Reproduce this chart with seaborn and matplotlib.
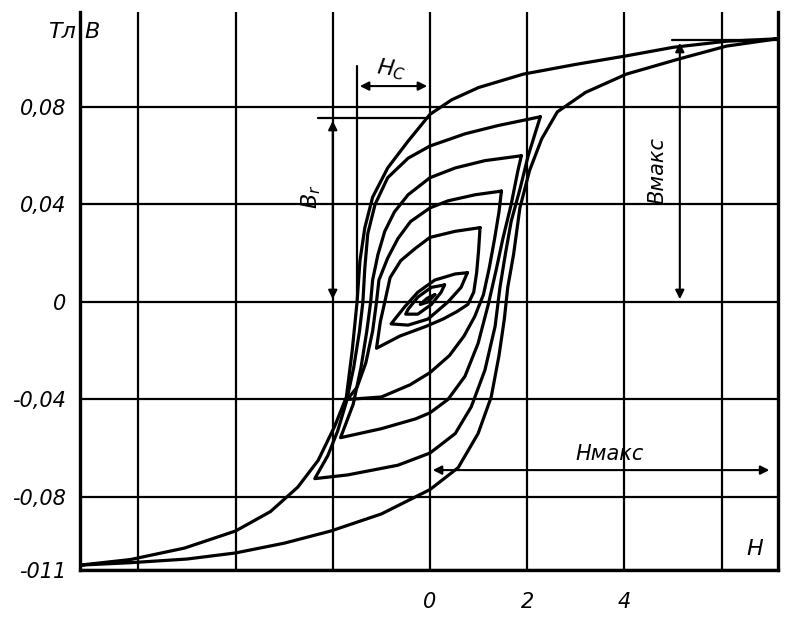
"""
Hysteresis loops B(H) - redrawn textbook figure
"""

import pandas as pd
import matplotlib
matplotlib.use('Agg')
import matplotlib.pyplot as plt
import seaborn as sns

# ============================================
# DATA
# each loop: upper tip -> descending branch -> lower tip -> ascending branch -> upper tip
# ============================================
outer_H = [7.15, 6.1, 5.0, 4.04, 3.0, 1.92, 1.0, 0.45, 0.0, -0.45, -0.87, -1.18, -1.34, -1.44,
           -1.5, -1.6, -1.72, -1.96, -2.3, -2.72, -3.28, -4.0, -5.05, -6.16, -7.2,
           -6.16, -5.0, -4.0, -3.0, -2.04, -1.0, 0.0, 0.58, 0.99, 1.26, 1.42, 1.53, 1.6,
           1.72, 1.85, 2.05, 2.3, 2.62, 3.2, 4.04, 5.1, 6.1, 7.15]
outer_B = [0.108, 0.107, 0.1045, 0.101, 0.0975, 0.0935, 0.088, 0.083, 0.077, 0.066, 0.055, 0.043,
           0.0305, 0.017, 0.0, -0.02, -0.039, -0.051, -0.065, -0.076, -0.086, -0.094, -0.101,
           -0.1057, -0.108,
           -0.107, -0.1055, -0.103, -0.099, -0.094, -0.087, -0.077, -0.068, -0.054, -0.039,
           -0.022, -0.007, 0.006, 0.0195, 0.0386, 0.054, 0.067, 0.078, 0.086, 0.0935, 0.0996,
           0.105, 0.108]

loop1_H = [2.27, 1.4, 0.72, 0.0, -0.45, -0.87, -1.13, -1.28, -1.34, -1.38, -1.45, -1.57, -1.72,
           -1.9, -2.1, -2.37,
           -1.7, -0.66, 0.0, 0.52, 0.85, 1.13, 1.34, 1.44, 1.55, 1.67, 1.86, 2.02, 2.27]
loop1_B = [0.076, 0.0724, 0.069, 0.064, 0.059, 0.051, 0.040, 0.028, 0.014, 0.0, -0.012, -0.027,
           -0.041, -0.053, -0.063, -0.0725,
           -0.071, -0.067, -0.062, -0.054, -0.043, -0.028, -0.010, 0.006, 0.0195, 0.033, 0.047,
           0.060, 0.076]

loop2_H = [1.88, 1.13, 0.52, 0.0, -0.45, -0.73, -0.93, -1.07, -1.18, -1.22, -1.3, -1.42, -1.58, -1.84,
           -1.0, -0.3, 0.0, 0.37, 0.72, 0.99, 1.2, 1.36, 1.5, 1.67, 1.81, 1.88]
loop2_B = [0.060, 0.058, 0.055, 0.051, 0.044, 0.037, 0.029, 0.0195, 0.009, 0.0, -0.012, -0.027,
           -0.042, -0.0557,
           -0.052, -0.048, -0.0455, -0.040, -0.0305, -0.017, -0.001, 0.013, 0.026, 0.040, 0.054, 0.060]

loop3_H = [1.47, 0.93, 0.37, 0.0, -0.4, -0.66, -0.87, -1.05, -1.1, -1.18, -1.32, -1.5, -1.7,
           -1.0, -0.41, 0.0, 0.4, 0.7, 0.92, 1.1, 1.22, 1.33, 1.42, 1.47]
loop3_B = [0.0455, 0.044, 0.0415, 0.0386, 0.033, 0.026, 0.018, 0.009, 0.0, -0.012, -0.025, -0.035,
           -0.040,
           -0.039, -0.034, -0.029, -0.022, -0.014, -0.006, 0.003, 0.014, 0.026, 0.037, 0.0455]

loop4_H = [1.03, 0.52, 0.0, -0.3, -0.6, -0.82, -0.93, -1.02, -1.1,
           -0.62, -0.08, 0.27, 0.55, 0.78, 0.9, 0.96, 1.0, 1.03]
loop4_B = [0.0305, 0.029, 0.0265, 0.022, 0.017, 0.010, 0.0, -0.008, -0.019,
           -0.014, -0.010, -0.007, -0.004, -0.001, 0.004, 0.012, 0.021, 0.0305]

loop5_H = [0.77, 0.52, 0.1, -0.25, -0.52, -0.72, -0.8, -0.45, -0.04, 0.37, 0.64, 0.77]
loop5_B = [0.012, 0.0115, 0.009, 0.004, -0.002, -0.007, -0.009, -0.0095, -0.007, 0.0, 0.006, 0.012]

loop6_H = [0.3, 0.03, -0.25, -0.45, -0.5, -0.25, 0.03, 0.23, 0.3]
loop6_B = [0.007, 0.006, 0.002, -0.003, -0.005, -0.005, -0.001, 0.004, 0.007]

loop7_H = [0.1, -0.06, -0.2, -0.04, 0.1]
loop7_B = [0.003, 0.0015, -0.001, 0.0, 0.003]

# grid and tick labels
grid_H = [-6, -4, -2, 0, 2, 4, 6]
grid_H_labels = ['', '', '', '0', '2', '4', '']
grid_B = [-0.11, -0.08, -0.04, 0, 0.04, 0.08]
grid_B_labels = ['-011', '-0,08', '-0,04', '0', '0,04', '0,08']

# ============================================
# LONG TABLE FOR SEABORN
# ============================================
loops = {
    'outer': (outer_H, outer_B), 'l1': (loop1_H, loop1_B), 'l2': (loop2_H, loop2_B),
    'l3': (loop3_H, loop3_B), 'l4': (loop4_H, loop4_B), 'l5': (loop5_H, loop5_B),
    'l6': (loop6_H, loop6_B), 'l7': (loop7_H, loop7_B),
}
frames = []
for name, (h, b) in loops.items():
    frames.append(pd.DataFrame({'H': h, 'B': b, 'loop': name, 'step': range(len(h))}))
df = pd.concat(frames, ignore_index=True)

# ============================================
# PLOT
# ============================================
sns.set_style('white')
plt.rcParams['font.family'] = ['DejaVu Sans']
plt.rcParams['mathtext.fontset'] = 'dejavusans'
plt.rcParams['text.color'] = 'black'
plt.rcParams['xtick.color'] = 'black'
plt.rcParams['ytick.color'] = 'black'

fig = plt.figure(figsize=(7.97, 6.21), dpi=100)
ax = fig.add_axes([80 / 797, 51 / 621, 698 / 797, 558 / 621])

sns.lineplot(data=df, x='H', y='B', units='loop', estimator=None, sort=False,
             color='black', lw=2.3, ax=ax, legend=False)

ax.set_xlim(-7.2, 7.16)
ax.set_ylim(-0.11, 0.119)
ax.set_xticks(grid_H)
ax.set_xticklabels(grid_H_labels)
ax.set_yticks(grid_B)
ax.set_yticklabels(grid_B_labels)
ax.grid(True, color='black', lw=1.6)
ax.tick_params(length=0, labelsize=15, labelcolor='black')
ax.tick_params(axis='x', pad=16)
ax.tick_params(axis='y', pad=10)
for lab in ax.get_xticklabels() + ax.get_yticklabels():
    lab.set_fontstyle('italic')
ax.set_xlabel('')
ax.set_ylabel('')

for side in ['left', 'bottom', 'right']:
    ax.spines[side].set_color('black')
    ax.spines[side].set_linewidth(2.4)
ax.spines['top'].set_visible(False)

dim = dict(arrowstyle='<|-|>', color='black', lw=1.5, mutation_scale=13)

# H_c : coercive force
ax.plot([-1.5, -1.5], [0.0, 0.097], color='black', lw=1.6)
ax.annotate('', xy=(-1.5, 0.0886), xytext=(0, 0.0886), arrowprops=dim)
ax.text(-0.8, 0.0955, r'$H_C$', fontsize=16, color='black', ha='center', va='center',
        rotation=-8)

# B_r : remanence
ax.plot([-2.3, 0], [0.0755, 0.0755], color='black', lw=1.6)
ax.annotate('', xy=(-2.0, 0.0755), xytext=(-2.0, 0.0), arrowprops=dim)
ax.text(-2.45, 0.043, r'$B_r$', fontsize=16, color='black', ha='center', va='center',
        rotation=90)

# B_max
ax.plot([4.98, 7.15], [0.1075, 0.1075], color='black', lw=1.6)
ax.annotate('', xy=(5.14, 0.1075), xytext=(5.14, 0.0), arrowprops=dim)
ax.text(4.67, 0.054, 'Bмакс', fontsize=15, fontstyle='italic', color='black',
        ha='center', va='center', rotation=90)

# H_max
ax.annotate('', xy=(0.0, -0.069), xytext=(7.04, -0.069), arrowprops=dim)
ax.text(3.7, -0.0625, 'Hмакс', fontsize=15, fontstyle='italic', color='black',
        ha='center', va='center')

# axis names
ax.text(6.69, -0.1015, 'H', fontsize=16, fontstyle='italic', color='black',
        ha='center', va='center')
ax.text(-7.57, 0.1108, 'Тл', fontsize=16, fontstyle='italic', color='black',
        ha='center', va='center', clip_on=False)
ax.text(-6.95, 0.1108, 'B', fontsize=16, fontstyle='italic', color='black',
        ha='center', va='center')

plt.savefig('out.png', dpi=100, facecolor='white')
